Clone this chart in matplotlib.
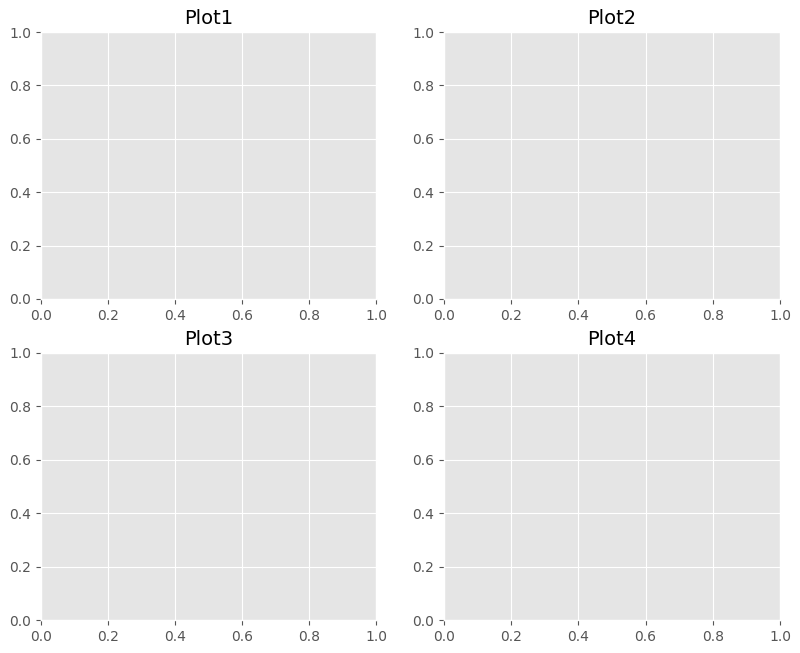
import matplotlib
matplotlib.use('Agg')
import matplotlib.pyplot as plt

plt.style.use('ggplot')

titles = ['Plot1', 'Plot2', 'Plot3', 'Plot4']
ticks = [0.0, 0.2, 0.4, 0.6, 0.8, 1.0]

W, H = 800, 653
fig = plt.figure(figsize=(W / 100, H / 100), dpi=100)

# pixel boxes (left, top, right, bottom)
boxes = [(41, 32, 376, 299), (444, 32, 780, 299),
         (41, 353, 376, 620), (444, 353, 780, 620)]

for title, (l, t, r, b) in zip(titles, boxes):
    ax = fig.add_axes([l / W, (H - b) / H, (r - l) / W, (b - t) / H])
    ax.set_xlim(0, 1)
    ax.set_ylim(0, 1)
    ax.set_xticks(ticks)
    ax.set_yticks(ticks)
    ax.set_title(title, fontsize=14)

fig.savefig('out.png', dpi=100)
